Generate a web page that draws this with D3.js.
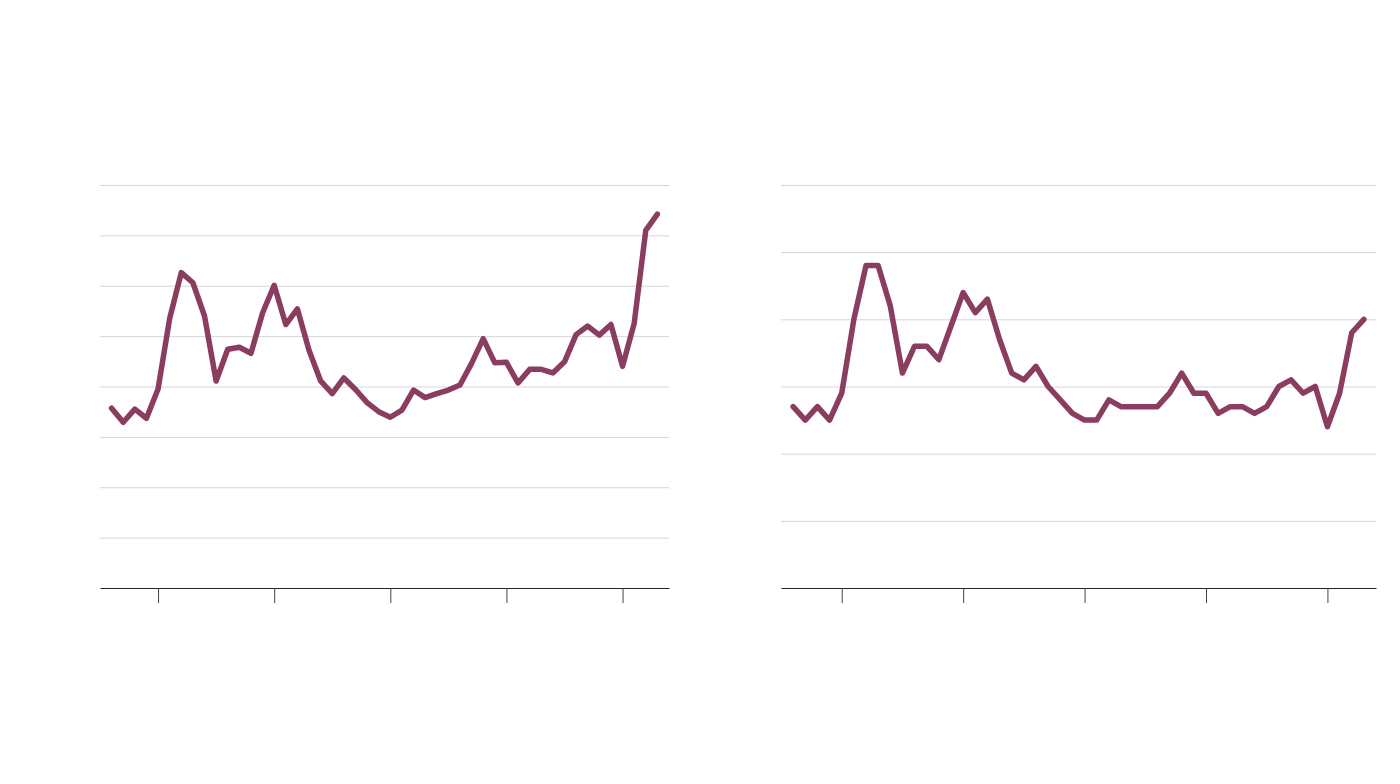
<!DOCTYPE html>
<html>
<head>
<meta charset="utf-8">
<script src="https://cdn.jsdelivr.net/npm/d3@7"></script>
<style>
  body { margin: 0; background: #fff; }
</style>
</head>
<body>
<div id="chart"></div>
<script>
const years = d3.range(1971, 2019);

const leftValues = [
  3.57, 3.29, 3.55, 3.37, 3.95, 5.35, 6.26, 6.06, 5.40, 4.11,
  4.74, 4.78, 4.66, 5.46, 6.01, 5.23, 5.54, 4.72, 4.11, 3.86,
  4.17, 3.94, 3.68, 3.50, 3.39, 3.53, 3.93, 3.78, 3.86, 3.93,
  4.03, 4.46, 4.95, 4.47, 4.48, 4.07, 4.34, 4.34, 4.27, 4.49,
  5.03, 5.20, 5.02, 5.23, 4.40, 5.25, 7.10, 7.42
];

const rightValues = [
  2.7, 2.5, 2.7, 2.5, 2.9, 4.0, 4.8, 4.8, 4.2, 3.2,
  3.6, 3.6, 3.4, 3.9, 4.4, 4.1, 4.3, 3.7, 3.2, 3.1,
  3.3, 3.0, 2.8, 2.6, 2.5, 2.5, 2.8, 2.7, 2.7, 2.7,
  2.7, 2.9, 3.2, 2.9, 2.9, 2.6, 2.7, 2.7, 2.6, 2.7,
  3.0, 3.1, 2.9, 3.0, 2.4, 2.9, 3.8, 4.0
];

const xDomain = [1970, 2019];
const xTicks = [1975, 1985, 1995, 2005, 2015];
const leftYTicks = d3.range(0, 9);
const rightYTicks = d3.range(0, 7);

const lineColor = "#8a3d5f";
const width = 1400;
const height = 784;

const svg = d3.select("#chart").append("svg")
  .attr("width", width)
  .attr("height", height)
  .attr("viewBox", [0, 0, width, height]);

const panels = [
  {values: leftValues, yTicks: leftYTicks, left: 100, right: 669},
  {values: rightValues, yTicks: rightYTicks, left: 781, right: 1376},
];

const plotTop = 185;
const plotBottom = 588;

panels.forEach(p => {
  const x = d3.scaleLinear()
    .domain(xDomain)
    .range([p.left, p.right]);

  const y = d3.scaleLinear()
    .domain([0, d3.max(p.yTicks)])
    .range([plotBottom, plotTop]);

  // gridlines
  svg.append("g")
    .attr("transform", `translate(${p.left},0)`)
    .call(d3.axisLeft(y).tickValues(p.yTicks.slice(1)).tickSize(-(p.right - p.left)).tickFormat(""))
    .call(g => g.select(".domain").remove())
    .call(g => g.selectAll(".tick line").attr("stroke", "#d6d6d6").attr("stroke-width", 1));

  // x axis
  svg.append("g")
    .attr("transform", `translate(0,${plotBottom})`)
    .call(d3.axisBottom(x).tickValues(xTicks).tickSize(15).tickSizeOuter(0).tickFormat(""))
    .call(g => g.select(".domain").attr("stroke", "#222").attr("stroke-width", 1.2))
    .call(g => g.selectAll(".tick line").attr("stroke", "#444").attr("stroke-width", 1));

  const line = d3.line()
    .x((d, i) => x(years[i]))
    .y(d => y(d));

  svg.append("path")
    .datum(p.values)
    .attr("fill", "none")
    .attr("stroke", lineColor)
    .attr("stroke-width", 5.5)
    .attr("stroke-linejoin", "round")
    .attr("stroke-linecap", "round")
    .attr("d", line);
});
</script>
</body>
</html>
